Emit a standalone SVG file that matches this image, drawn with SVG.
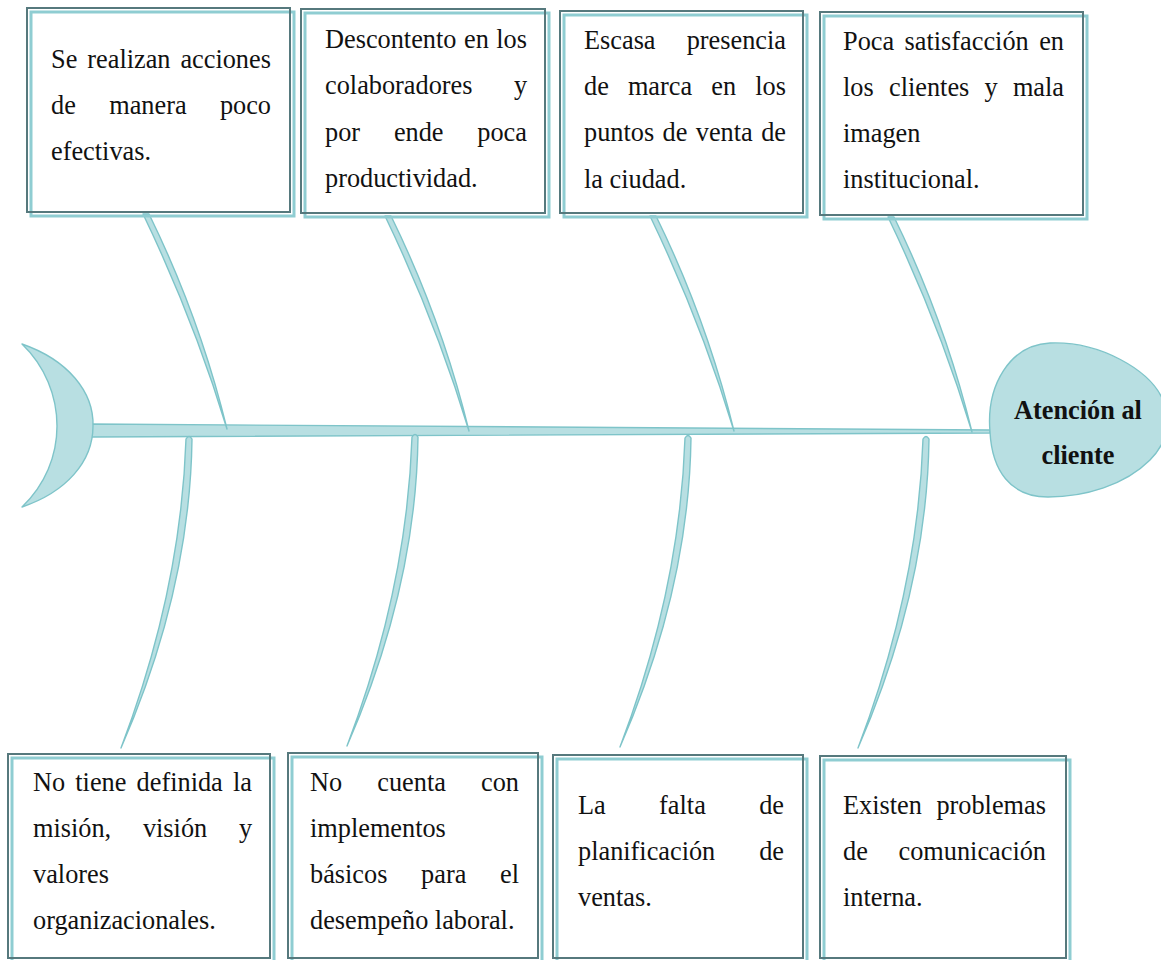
<svg xmlns="http://www.w3.org/2000/svg" width="1161" height="960" viewBox="0 0 1161 960">
  <defs>
    <style>
      .frame { fill: none; stroke: #56797d; stroke-width: 2; }
      .glow { fill: none; stroke: #8fcdd2; stroke-width: 3; }
      .bone { fill: #b8dfe2; stroke: #7ec4c9; stroke-width: 1.4; stroke-linejoin: round; }
      .t { font-family: "Liberation Serif", "Times New Roman", serif; font-size: 26.3px; fill: #111; }
      .hd { font-family: "Liberation Serif", "Times New Roman", serif; font-size: 26.3px; font-weight: bold; fill: #111; text-anchor: middle; }
    </style>
    <!-- upper rib: runs from a cause box down to the spine -->
    <path id="ribUp" class="bone" d="M143,214 Q194,320 227,429 Q200,318 149,214 Z"/>
    <!-- lower rib: runs from below the spine down to a cause box -->
    <path id="ribDown" class="bone" d="M186,439 Q181,590 121,748 Q190,590 192,439 Q189,434 186,439 Z"/>
  </defs>

  <rect width="1161" height="960" fill="#ffffff"/>

  <!-- spine, tail and ribs -->
  <g id="connectors">
    <path id="spine" class="bone" d="M92,424 L990,430 L990,433 L92,437 Z"/>
    <use href="#ribUp"/>
    <use href="#ribUp" transform="translate(242,2)"/>
    <use href="#ribUp" transform="translate(507,2)"/>
    <use href="#ribUp" transform="translate(745,3)"/>
    <use href="#ribDown"/>
    <use href="#ribDown" transform="translate(226,-2)"/>
    <use href="#ribDown" transform="translate(499,-1)"/>
    <use href="#ribDown" transform="translate(737,0)"/>
  </g>

  <g id="tail">
    <path class="bone" d="M22,344 C68,360 94,392 93,426 C93,462 66,492 22,507 C45,485 57,456 57,426 C57,396 45,366 22,344 Z"/>
  </g>

  <g id="head">
    <path class="bone" d="M990,432 C986,385 1010,345 1050,343 C1100,341 1150,370 1163,400 C1172,425 1165,445 1150,460 C1125,485 1085,497 1048,497 C1010,497 992,470 990,432 Z"/>
    <text class="hd" x="1078" y="419">Atención al</text>
    <text class="hd" x="1078" y="464">cliente</text>
  </g>

  <!-- upper causes -->
  <g id="cause1">
    <rect class="glow" x="31" y="12" width="263" height="204"/>
    <rect class="frame" x="27" y="8" width="263" height="204"/>
    <text class="t" y="68"><tspan x="51">Se</tspan><tspan x="87.3">realizan</tspan><tspan x="180.4">acciones</tspan></text>
    <text class="t" y="114"><tspan x="51">de</tspan><tspan x="109.2">manera</tspan><tspan x="219.9">poco</tspan></text>
    <text class="t" x="51" y="160">efectivas.</text>
  </g>

  <g id="cause2">
    <rect class="glow" x="305" y="13" width="244" height="204"/>
    <rect class="frame" x="301" y="9" width="244" height="204"/>
    <text class="t" y="48"><tspan x="325">Descontento</tspan><tspan x="464">en</tspan><tspan x="496.3">los</tspan></text>
    <text class="t" y="94"><tspan x="325">colaboradores</tspan><tspan x="513.9">y</tspan></text>
    <text class="t" y="141"><tspan x="325">por</tspan><tspan x="393.9">ende</tspan><tspan x="477.3">poca</tspan></text>
    <text class="t" x="325" y="187">productividad.</text>
  </g>

  <g id="cause3">
    <rect class="glow" x="564" y="15" width="243" height="202"/>
    <rect class="frame" x="560" y="11" width="243" height="202"/>
    <text class="t" y="49"><tspan x="584">Escasa</tspan><tspan x="686.7">presencia</tspan></text>
    <text class="t" y="95"><tspan x="584">de</tspan><tspan x="627.9">marca</tspan><tspan x="711.3">en</tspan><tspan x="755.3">los</tspan></text>
    <text class="t" y="141"><tspan x="584">puntos</tspan><tspan x="662.5">de</tspan><tspan x="695.8">venta</tspan><tspan x="761.2">de</tspan></text>
    <text class="t" x="584" y="188">la ciudad.</text>
  </g>

  <g id="cause4">
    <rect class="glow" x="824" y="16" width="263" height="203"/>
    <rect class="frame" x="820" y="12" width="263" height="203"/>
    <text class="t" y="50"><tspan x="843">Poca</tspan><tspan x="904.6">satisfacción</tspan><tspan x="1039.2">en</tspan></text>
    <text class="t" y="96"><tspan x="843">los</tspan><tspan x="889">clientes</tspan><tspan x="984.5">y</tspan><tspan x="1012.9">mala</tspan></text>
    <text class="t" x="843" y="142">imagen</text>
    <text class="t" x="843" y="188">institucional.</text>
  </g>

  <!-- lower causes -->
  <g id="cause5">
    <rect class="glow" x="12" y="758" width="262" height="204"/>
    <rect class="frame" x="8" y="754" width="262" height="204"/>
    <text class="t" y="791"><tspan x="33">No</tspan><tspan x="75.3">tiene</tspan><tspan x="136.6">definida</tspan><tspan x="233">la</tspan></text>
    <text class="t" y="837"><tspan x="33">misión,</tspan><tspan x="142.9">visión</tspan><tspan x="238.9">y</tspan></text>
    <text class="t" x="33" y="883">valores</text>
    <text class="t" x="33" y="929">organizacionales.</text>
  </g>

  <g id="cause6">
    <rect class="glow" x="292" y="757" width="250" height="205"/>
    <rect class="frame" x="288" y="753" width="250" height="205"/>
    <text class="t" y="791"><tspan x="310">No</tspan><tspan x="377.3">cuenta</tspan><tspan x="481">con</tspan></text>
    <text class="t" x="310" y="837">implementos</text>
    <text class="t" y="883"><tspan x="310">básicos</tspan><tspan x="421.1">para</tspan><tspan x="500">el</tspan></text>
    <text class="t" x="310" y="929">desempeño laboral.</text>
  </g>

  <g id="cause7">
    <rect class="glow" x="557" y="759" width="250" height="203"/>
    <rect class="frame" x="553" y="755" width="250" height="203"/>
    <text class="t" y="814"><tspan x="578">La</tspan><tspan x="659.1">falta</tspan><tspan x="759.2">de</tspan></text>
    <text class="t" y="860"><tspan x="578">planificación</tspan><tspan x="759.2">de</tspan></text>
    <text class="t" x="578" y="906">ventas.</text>
  </g>

  <g id="cause8">
    <rect class="glow" x="824" y="760" width="246" height="202"/>
    <rect class="frame" x="820" y="756" width="246" height="202"/>
    <text class="t" y="814"><tspan x="843">Existen</tspan><tspan x="936.4">problemas</tspan></text>
    <text class="t" y="860"><tspan x="843">de</tspan><tspan x="898.5">comunicación</tspan></text>
    <text class="t" x="843" y="906">interna.</text>
  </g>
</svg>
